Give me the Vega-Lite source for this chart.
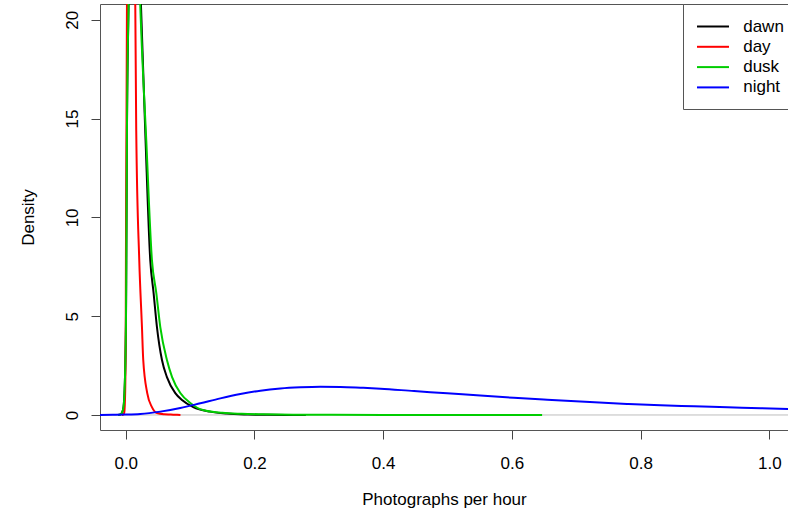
{
  "$schema": "https://vega.github.io/schema/vega-lite/v6.json",
  "width": 688,
  "height": 426,
  "autosize": {"type": "none"},
  "padding": {"left": 100, "top": 4, "right": 0, "bottom": 87},
  "background": "white",
  "config": {
    "font": "Liberation Sans",
    "view": {"stroke": null},
    "axis": {
      "labelFont": "Liberation Sans",
      "labelFontSize": 17,
      "labelColor": "#000000",
      "titleFont": "Liberation Sans",
      "titleFontSize": 17,
      "titleFontWeight": "normal",
      "titleColor": "#000000",
      "tickColor": "#444444",
      "tickSize": 9,
      "domainColor": "#555555",
      "grid": false
    },
    "legend": {
      "labelFont": "Liberation Sans",
      "labelFontSize": 17,
      "labelColor": "#000000"
    }
  },
  "datasets": {
    "curves": [
      {"period": "dawn", "rate": -0.012, "density": 0},
      {"period": "dawn", "rate": -0.008, "density": 0.03},
      {"period": "dawn", "rate": -0.006, "density": 0.1},
      {"period": "dawn", "rate": -0.0035, "density": 0.4},
      {"period": "dawn", "rate": -0.002, "density": 1.1},
      {"period": "dawn", "rate": 0.0003, "density": 4.5},
      {"period": "dawn", "rate": 0.0009, "density": 7.8},
      {"period": "dawn", "rate": 0.0019, "density": 14.4},
      {"period": "dawn", "rate": 0.0044, "density": 20.8},
      {"period": "dawn", "rate": 0.007, "density": 27},
      {"period": "dawn", "rate": 0.011, "density": 31},
      {"period": "dawn", "rate": 0.015, "density": 30},
      {"period": "dawn", "rate": 0.019, "density": 26},
      {"period": "dawn", "rate": 0.0236, "density": 20.8},
      {"period": "dawn", "rate": 0.0308, "density": 13.9},
      {"period": "dawn", "rate": 0.0381, "density": 7.84},
      {"period": "dawn", "rate": 0.0433, "density": 6.17},
      {"period": "dawn", "rate": 0.0485, "density": 4.45},
      {"period": "dawn", "rate": 0.0563, "density": 2.78},
      {"period": "dawn", "rate": 0.064, "density": 1.92},
      {"period": "dawn", "rate": 0.077, "density": 1.11},
      {"period": "dawn", "rate": 0.0874, "density": 0.76},
      {"period": "dawn", "rate": 0.105, "density": 0.4},
      {"period": "dawn", "rate": 0.131, "density": 0.17},
      {"period": "dawn", "rate": 0.157, "density": 0.07},
      {"period": "dawn", "rate": 0.19, "density": 0.025},
      {"period": "dawn", "rate": 0.22, "density": 0.008},
      {"period": "dawn", "rate": 0.25, "density": 0.002},
      {"period": "dawn", "rate": 0.28, "density": 0},

      {"period": "day", "rate": -0.006, "density": 0},
      {"period": "day", "rate": -0.004, "density": 0.02},
      {"period": "day", "rate": -0.0025, "density": 0.1},
      {"period": "day", "rate": -0.0015, "density": 0.5},
      {"period": "day", "rate": -0.0005, "density": 2.0},
      {"period": "day", "rate": 0.0, "density": 4.5},
      {"period": "day", "rate": 0.0003, "density": 8},
      {"period": "day", "rate": 0.0008, "density": 12},
      {"period": "day", "rate": 0.0019, "density": 20.8},
      {"period": "day", "rate": 0.004, "density": 40},
      {"period": "day", "rate": 0.008, "density": 55},
      {"period": "day", "rate": 0.012, "density": 42},
      {"period": "day", "rate": 0.0148, "density": 20.8},
      {"period": "day", "rate": 0.0163, "density": 14.4},
      {"period": "day", "rate": 0.021, "density": 7.84},
      {"period": "day", "rate": 0.0252, "density": 4.45},
      {"period": "day", "rate": 0.0272, "density": 2.78},
      {"period": "day", "rate": 0.0334, "density": 1.11},
      {"period": "day", "rate": 0.0407, "density": 0.4},
      {"period": "day", "rate": 0.0485, "density": 0.1},
      {"period": "day", "rate": 0.06, "density": 0.04},
      {"period": "day", "rate": 0.07, "density": 0.025},
      {"period": "day", "rate": 0.078, "density": 0.01},
      {"period": "day", "rate": 0.085, "density": 0},

      {"period": "dusk", "rate": -0.012, "density": 0},
      {"period": "dusk", "rate": -0.008, "density": 0.03},
      {"period": "dusk", "rate": -0.006, "density": 0.1},
      {"period": "dusk", "rate": -0.0035, "density": 0.4},
      {"period": "dusk", "rate": -0.002, "density": 1.1},
      {"period": "dusk", "rate": 0.0003, "density": 4.5},
      {"period": "dusk", "rate": 0.0009, "density": 7.8},
      {"period": "dusk", "rate": 0.0019, "density": 14.4},
      {"period": "dusk", "rate": 0.0044, "density": 20.8},
      {"period": "dusk", "rate": 0.007, "density": 26},
      {"period": "dusk", "rate": 0.011, "density": 29},
      {"period": "dusk", "rate": 0.015, "density": 28},
      {"period": "dusk", "rate": 0.019, "density": 24.5},
      {"period": "dusk", "rate": 0.0225, "density": 20.8},
      {"period": "dusk", "rate": 0.0319, "density": 13.9},
      {"period": "dusk", "rate": 0.0407, "density": 7.84},
      {"period": "dusk", "rate": 0.0475, "density": 6.17},
      {"period": "dusk", "rate": 0.0537, "density": 4.45},
      {"period": "dusk", "rate": 0.064, "density": 2.78},
      {"period": "dusk", "rate": 0.072, "density": 1.92},
      {"period": "dusk", "rate": 0.0848, "density": 1.11},
      {"period": "dusk", "rate": 0.1003, "density": 0.61},
      {"period": "dusk", "rate": 0.12, "density": 0.25},
      {"period": "dusk", "rate": 0.15, "density": 0.11},
      {"period": "dusk", "rate": 0.18, "density": 0.06},
      {"period": "dusk", "rate": 0.2135, "density": 0.035},
      {"period": "dusk", "rate": 0.26, "density": 0.015},
      {"period": "dusk", "rate": 0.32, "density": 0.006},
      {"period": "dusk", "rate": 0.4, "density": 0.003},
      {"period": "dusk", "rate": 0.5, "density": 0.001},
      {"period": "dusk", "rate": 0.647, "density": 0},

      {"period": "night", "rate": -0.08, "density": 0},
      {"period": "night", "rate": -0.04, "density": 0.004},
      {"period": "night", "rate": -0.02, "density": 0.01},
      {"period": "night", "rate": 0.0, "density": 0.02},
      {"period": "night", "rate": 0.0226, "density": 0.05},
      {"period": "night", "rate": 0.0537, "density": 0.17},
      {"period": "night", "rate": 0.0848, "density": 0.35},
      {"period": "night", "rate": 0.1159, "density": 0.59},
      {"period": "night", "rate": 0.147, "density": 0.84},
      {"period": "night", "rate": 0.1781, "density": 1.06},
      {"period": "night", "rate": 0.2092, "density": 1.23},
      {"period": "night", "rate": 0.2403, "density": 1.34},
      {"period": "night", "rate": 0.2714, "density": 1.40},
      {"period": "night", "rate": 0.3025, "density": 1.43},
      {"period": "night", "rate": 0.3336, "density": 1.42},
      {"period": "night", "rate": 0.3647, "density": 1.38},
      {"period": "night", "rate": 0.396, "density": 1.33},
      {"period": "night", "rate": 0.448, "density": 1.21},
      {"period": "night", "rate": 0.4995, "density": 1.1},
      {"period": "night", "rate": 0.551, "density": 0.98},
      {"period": "night", "rate": 0.603, "density": 0.87},
      {"period": "night", "rate": 0.655, "density": 0.77},
      {"period": "night", "rate": 0.7285, "density": 0.64},
      {"period": "night", "rate": 0.779, "density": 0.56},
      {"period": "night", "rate": 0.831, "density": 0.49},
      {"period": "night", "rate": 0.883, "density": 0.44},
      {"period": "night", "rate": 0.935, "density": 0.39},
      {"period": "night", "rate": 0.987, "density": 0.34},
      {"period": "night", "rate": 1.031, "density": 0.3},
      {"period": "night", "rate": 1.06, "density": 0.28}
    ]
  },
  "resolve": {"axis": {"x": "independent"}},
  "layer": [
    {
      "data": {"values": [{}]},
      "mark": {"type": "rule", "color": "#bebebe", "strokeWidth": 1},
      "encoding": {
        "x": {
          "datum": -0.04,
          "type": "quantitative",
          "scale": {"domain": [-0.04, 1.0291], "nice": false, "zero": false},
          "axis": {"orient": "top", "labels": false, "ticks": false, "title": null, "domain": true}
        },
        "x2": {"datum": 1.0291},
        "y": {
          "datum": 0,
          "type": "quantitative",
          "scale": {"domain": [-0.76, 20.8], "nice": false, "zero": false},
          "axis": {
            "title": "Density",
            "values": [0, 5, 10, 15, 20],
            "labelAngle": -90,
            "labelAlign": "center",
            "labelBaseline": "alphabetic",
            "labelPadding": 14,
            "titlePadding": 26,
            "domain": true
          }
        }
      }
    },
    {
      "data": {"name": "curves"},
      "mark": {"type": "line", "strokeWidth": 2, "clip": true, "interpolate": "monotone"},
      "encoding": {
        "x": {
          "field": "rate",
          "type": "quantitative",
          "scale": {"domain": [-0.04, 1.0291], "nice": false, "zero": false},
          "axis": {
            "orient": "bottom",
            "title": "Photographs per hour",
            "values": [0, 0.2, 0.4, 0.6, 0.8, 1.0],
            "format": ".1f",
            "labelBaseline": "alphabetic",
            "labelPadding": 29,
            "titlePadding": 20,
            "domain": true
          }
        },
        "y": {
          "field": "density",
          "type": "quantitative",
          "scale": {"domain": [-0.76, 20.8], "nice": false, "zero": false},
          "axis": {
            "title": "Density",
            "values": [0, 5, 10, 15, 20],
            "labelAngle": -90,
            "labelAlign": "center",
            "labelBaseline": "alphabetic",
            "labelPadding": 14,
            "titlePadding": 26,
            "domain": true
          }
        },
        "color": {
          "field": "period",
          "type": "nominal",
          "scale": {
            "domain": ["dawn", "day", "dusk", "night"],
            "range": ["#000000", "#ff0000", "#00cd00", "#0000ff"]
          },
          "legend": {
            "title": null,
            "orient": "none",
            "legendX": 583,
            "legendY": 0,
            "symbolType": "M-1.88,0H1.88",
            "symbolSize": 289,
            "symbolOffset": 7.5,
            "symbolStrokeWidth": 2,
            "labelOffset": 20.7,
            "padding": 13,
            "rowPadding": 2.3,
            "strokeColor": "#555555",
            "fillColor": "#ffffff"
          }
        }
      }
    }
  ]
}
